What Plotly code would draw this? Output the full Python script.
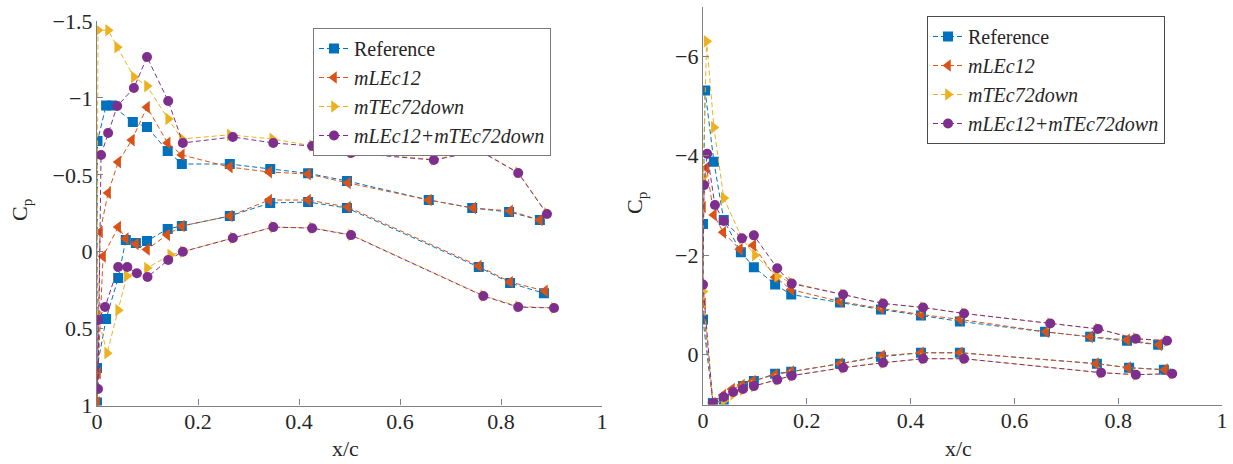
import plotly.graph_objects as go

# ---------------- data: left panel ----------------
series_names = ["Reference", "<i>mLEc12</i>", "<i>mTEc72down</i>", "<i>mLEc12+mTEc72down</i>"]
colors = ["#0072BD", "#D95319", "#EDB120", "#7E2F8E"]
symbols = ["square", "triangle-left", "triangle-right", "circle"]

L_ref_x = [0.877, 0.816, 0.743, 0.657, 0.495, 0.418, 0.343, 0.263, 0.168, 0.140, 0.099, 0.071, 0.030, 0.018, 0.001,
           0.000, 0.000, 0.018, 0.042, 0.057, 0.077, 0.099, 0.140, 0.168, 0.263, 0.343, 0.418, 0.495, 0.756, 0.818, 0.885]
L_ref_cp = [-0.206, -0.258, -0.284, -0.336, -0.460, -0.510, -0.538, -0.570, -0.570, -0.655, -0.810, -0.843, -0.950, -0.950, -0.720,
            0.980, 0.756, 0.437, 0.171, -0.076, -0.056, -0.070, -0.148, -0.167, -0.232, -0.317, -0.323, -0.284, 0.100, 0.204, 0.270]

L_le_x = [0.877, 0.818, 0.745, 0.657, 0.497, 0.418, 0.341, 0.263, 0.168, 0.140, 0.099, 0.069, 0.042, 0.022, 0.006,
          0.000, 0.002, 0.012, 0.042, 0.057, 0.077, 0.099, 0.139, 0.168, 0.263, 0.341, 0.418, 0.497, 0.756, 0.818, 0.887]
L_le_cp = [-0.206, -0.265, -0.284, -0.336, -0.447, -0.505, -0.518, -0.550, -0.629, -0.707, -0.940, -0.726, -0.583, -0.382, -0.128,
           0.980, 0.790, 0.030, -0.160, -0.085, -0.050, -0.015, -0.110, -0.167, -0.232, -0.336, -0.336, -0.290, 0.093, 0.197, 0.255]

L_te_x = [0.891, 0.834, 0.758, 0.667, 0.503, 0.426, 0.347, 0.263, 0.168, 0.141, 0.099, 0.073, 0.040, 0.022, 0.002,
          0.000, 0.020, 0.042, 0.059, 0.099, 0.145, 0.170, 0.269, 0.349, 0.426, 0.503, 0.765, 0.834, 0.905]
L_te_cp = [-0.250, -0.515, -0.660, -0.600, -0.645, -0.690, -0.733, -0.760, -0.733, -0.863, -1.077, -1.136, -1.330, -1.440, -1.440,
           0.400, 0.660, 0.380, 0.158, 0.106, 0.021, 0.000, -0.090, -0.160, -0.155, -0.110, 0.285, 0.355, 0.366]

L_both_x = [0.891, 0.834, 0.758, 0.667, 0.503, 0.426, 0.349, 0.269, 0.170, 0.141, 0.099, 0.073, 0.040, 0.022, 0.008,
            0.002, 0.002, 0.016, 0.042, 0.060, 0.079, 0.100, 0.141, 0.170, 0.269, 0.349, 0.426, 0.503, 0.765, 0.834, 0.905]
L_both_cp = [-0.245, -0.512, -0.655, -0.596, -0.642, -0.687, -0.707, -0.746, -0.707, -0.980, -1.266, -1.064, -0.947, -0.772, -0.629,
             0.893, 0.444, 0.360, 0.100, 0.100, 0.140, 0.165, 0.054, 0.000, -0.089, -0.160, -0.153, -0.108, 0.288, 0.360, 0.366]

# ---------------- data: right panel ----------------
R_ref_x = [0.877, 0.817, 0.746, 0.659, 0.495, 0.420, 0.343, 0.264, 0.170, 0.139, 0.098, 0.073, 0.040, 0.021, 0.004,
           0.000, 0.000, 0.019, 0.040, 0.077, 0.098, 0.139, 0.170, 0.264, 0.343, 0.420, 0.495, 0.759, 0.821, 0.888]
R_ref_cp = [-0.20, -0.28, -0.36, -0.46, -0.67, -0.79, -0.91, -1.05, -1.21, -1.41, -1.76, -2.06, -2.71, -3.88, -5.31,
            -2.63, -0.71, 0.97, 0.91, 0.63, 0.53, 0.38, 0.34, 0.18, 0.04, -0.04, -0.04, 0.18, 0.26, 0.30]

R_le_x = [0.879, 0.817, 0.746, 0.661, 0.495, 0.420, 0.343, 0.264, 0.170, 0.139, 0.097, 0.071, 0.039, 0.021, 0.007,
          0.000, 0.000, 0.019, 0.039, 0.056, 0.075, 0.096, 0.139, 0.170, 0.264, 0.345, 0.420, 0.495, 0.757, 0.819, 0.890]
R_le_cp = [-0.20, -0.30, -0.36, -0.46, -0.71, -0.81, -0.93, -1.07, -1.31, -1.56, -2.20, -2.12, -2.46, -2.81, -3.76,
           -2.97, -1.03, 0.97, 0.81, 0.69, 0.61, 0.53, 0.40, 0.34, 0.18, 0.02, -0.04, -0.04, 0.18, 0.26, 0.30]

R_te_x = [0.894, 0.834, 0.761, 0.669, 0.503, 0.424, 0.347, 0.270, 0.170, 0.143, 0.100, 0.075, 0.040, 0.021, 0.007,
          0.000, 0.000, 0.019, 0.040, 0.058, 0.077, 0.098, 0.143, 0.171, 0.270, 0.347, 0.424, 0.503, 0.767, 0.834, 0.904]
R_te_cp = [-0.28, -0.33, -0.52, -0.63, -0.83, -0.95, -1.03, -1.21, -1.45, -1.58, -2.00, -2.34, -3.15, -4.57, -6.30,
           -3.58, -1.27, 0.99, 0.92, 0.79, 0.70, 0.63, 0.50, 0.42, 0.26, 0.16, 0.08, 0.08, 0.36, 0.40, 0.38]

R_both_x = [0.894, 0.834, 0.761, 0.669, 0.503, 0.424, 0.347, 0.270, 0.171, 0.143, 0.098, 0.075, 0.040, 0.023, 0.008,
            0.002, 0.000, 0.019, 0.040, 0.058, 0.077, 0.098, 0.143, 0.171, 0.270, 0.347, 0.424, 0.503, 0.767, 0.834, 0.904]
R_both_cp = [-0.28, -0.32, -0.52, -0.63, -0.83, -0.95, -1.03, -1.21, -1.43, -1.74, -2.40, -2.34, -2.69, -3.01, -4.04,
             -3.41, -1.41, 0.97, 0.85, 0.75, 0.69, 0.63, 0.50, 0.42, 0.26, 0.16, 0.08, 0.08, 0.36, 0.40, 0.38]

x_tick_vals = [0, 0.2, 0.4, 0.6, 0.8, 1]
left_y_ticks = [-1.5, -1, -0.5, 0, 0.5, 1]
right_y_ticks = [-6, -4, -2, 0]

left_data = [(L_ref_x, L_ref_cp), (L_le_x, L_le_cp), (L_te_x, L_te_cp), (L_both_x, L_both_cp)]
right_data = [(R_ref_x, R_ref_cp), (R_le_x, R_le_cp), (R_te_x, R_te_cp), (R_both_x, R_both_cp)]

FONT = "Liberation Serif"
TXT = "#262626"
W, H = 1233, 464
msizes = [10, 11, 11, 10]

fig = go.Figure()
for panel, data in enumerate([left_data, right_data]):
    for i, (xs, ys) in enumerate(data):
        fig.add_trace(go.Scatter(
            x=xs, y=ys, mode="lines+markers", name=series_names[i],
            line=dict(color=colors[i], width=1, dash="5px,3px"),
            marker=dict(symbol=symbols[i], size=msizes[i], color=colors[i], line=dict(width=0)),
            xaxis="x" if panel == 0 else "x2",
            yaxis="y" if panel == 0 else "y2",
            legend="legend" if panel == 0 else "legend2",
        ))

axis_common = dict(
    showgrid=False, zeroline=False, showline=True, linecolor="#808080", linewidth=1.3,
    ticks="inside", ticklen=6, tickcolor="#808080", tickwidth=1, automargin=False,
    tickfont=dict(family=FONT, size=22, color=TXT), mirror=False,
)

def px_x(p):
    return p / W

def px_y(p):
    return (H - p) / H

title_font = dict(family=FONT, size=22, color=TXT)

fig.update_layout(
    template="none",
    width=W, height=H,
    margin=dict(l=0, r=0, t=0, b=0, pad=0, autoexpand=False),
    paper_bgcolor="white", plot_bgcolor="white",
    font=dict(family=FONT, size=22, color=TXT),
    xaxis=dict(domain=[px_x(97), px_x(602)], range=[0, 1], tickvals=x_tick_vals, anchor="y",
               ticklabelstandoff=-4, **axis_common),
    yaxis=dict(domain=[px_y(405.5), px_y(21)], range=[1, -1.5], tickvals=left_y_ticks, anchor="x",
               ticklabelstandoff=-1, **axis_common),
    xaxis2=dict(domain=[px_x(703), px_x(1222)], range=[0, 1], tickvals=x_tick_vals, anchor="y2",
                ticklabelstandoff=-4, **axis_common),
    yaxis2=dict(domain=[px_y(404.5), px_y(6.5)], range=[1, -7], tickvals=right_y_ticks, anchor="x2",
                ticklabelstandoff=-1, **axis_common),
    legend=dict(x=px_x(313), y=px_y(28), xanchor="left", yanchor="top", bgcolor="white",
                bordercolor="#7a7a7a", borderwidth=1, font=dict(family=FONT, size=20, color=TXT),
                tracegroupgap=0),
    legend2=dict(x=px_x(927), y=px_y(16), xanchor="left", yanchor="top", bgcolor="white",
                 bordercolor="#4a4a4a", borderwidth=1, font=dict(family=FONT, size=20, color=TXT),
                 tracegroupgap=0),
    annotations=[
        dict(text="x/c", x=px_x(345), y=px_y(448), xref="paper", yref="paper", showarrow=False,
             xanchor="center", yanchor="middle", font=title_font),
        dict(text="x/c", x=px_x(958), y=px_y(448), xref="paper", yref="paper", showarrow=False,
             xanchor="center", yanchor="middle", font=title_font),
        dict(text="C<sub>p</sub>", x=px_x(21), y=px_y(210), xref="paper", yref="paper", showarrow=False,
             xanchor="center", yanchor="middle", textangle=-90, font=title_font),
        dict(text="C<sub>p</sub>", x=px_x(636), y=px_y(203), xref="paper", yref="paper", showarrow=False,
             xanchor="center", yanchor="middle", textangle=-90, font=title_font),
    ],
)

fig.write_html("out.html")
